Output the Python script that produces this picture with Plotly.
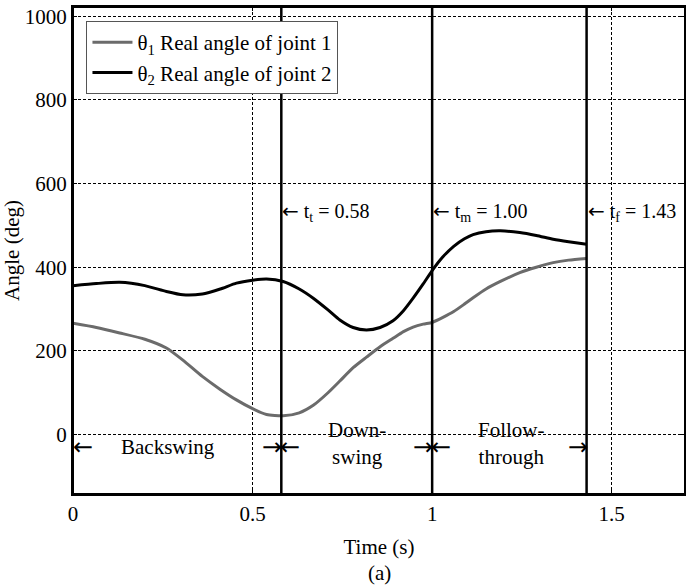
import plotly.graph_objects as go

time_s = [0, 0.065, 0.13, 0.2, 0.26, 0.306, 0.36, 0.41, 0.455, 0.5, 0.539, 0.585,
          0.63, 0.669, 0.71, 0.743, 0.78, 0.817, 0.855, 0.891, 0.92, 0.947, 0.975,
          1.0, 1.03, 1.06, 1.09, 1.114, 1.15, 1.19, 1.244, 1.29, 1.337, 1.38, 1.43]
theta1 = [266, 256, 243, 228, 207, 178, 139, 108, 83, 62, 48, 45,
          52, 70, 100, 128, 160, 185, 210, 230, 246, 257, 264,
          268, 280, 294, 312, 327, 348, 366, 387, 400, 411, 417, 421]
theta2 = [356, 361, 364, 356, 342, 334, 336, 348, 362, 369, 372, 366,
          348, 326, 298, 274, 256, 250, 256, 272, 296, 326, 360,
          392, 425, 450, 468, 478, 485, 487, 483, 476, 467, 461, 455]

phase_times = [0.58, 1.00, 1.43]
phase_labels = ["t<sub>t</sub> = 0.58", "t<sub>m</sub> = 1.00", "t<sub>f</sub> = 1.43"]
phase_names = ["Backswing", "Down-<br>swing", "Follow-<br>through"]
phase_name_x = [0.265, 0.79, 1.22]

x_ticks = [0, 0.5, 1, 1.5]
x_ticklabels = ["0", "0.5", "1", "1.5"]
y_ticks = [0, 200, 400, 600, 800, 1000]

FONT = "Liberation Serif, Times New Roman, serif"
ARROWFONT = "DejaVu Sans"
FS = 21
AFS = 24

fig = go.Figure()
fig.add_trace(go.Scatter(x=time_s, y=theta1, mode="lines", line=dict(color="#6b6b6b", width=3, shape="spline", smoothing=0.6),
                         name="θ<sub>1</sub> Real angle of joint 1"))
fig.add_trace(go.Scatter(x=time_s, y=theta2, mode="lines", line=dict(color="black", width=3, shape="spline", smoothing=0.6),
                         name="θ<sub>2</sub> Real angle of joint 2"))

for t in phase_times:
    fig.add_shape(type="line", x0=t, x1=t, y0=0, y1=1, xref="x", yref="paper",
                  line=dict(color="black", width=2.5))
# plot frame
fig.add_shape(type="rect", x0=0, x1=1, y0=0, y1=1, xref="paper", yref="paper",
              line=dict(color="black", width=2), layer="above")

ann = []
for t, lab in zip(phase_times, phase_labels):
    ann.append(dict(x=t, y=533, xref="x", yref="y", xanchor="left", yanchor="middle",
                    text="<span style='font-family:DejaVu Sans'>←</span> " + lab, showarrow=False,
                    font=dict(family=FONT, size=20, color="black"), xshift=-1))

# bottom arrows
arrow_y = -30
ann.append(dict(x=0, y=arrow_y, xref="x", yref="y", xanchor="left", yanchor="middle", text="←",
                showarrow=False, font=dict(family=ARROWFONT, size=AFS, color="black"), xshift=-2))
for t in phase_times:
    ann.append(dict(x=t, y=arrow_y, xref="x", yref="y", xanchor="right", yanchor="middle", text="→",
                    showarrow=False, font=dict(family=ARROWFONT, size=AFS, color="black"), xshift=3))
for t in phase_times[:2]:
    ann.append(dict(x=t, y=arrow_y, xref="x", yref="y", xanchor="left", yanchor="middle", text="←",
                    showarrow=False, font=dict(family=ARROWFONT, size=AFS, color="black"), xshift=-3))
for nx, nm in zip(phase_name_x, phase_names):
    yv = -29 if "<br>" not in nm else -22
    ann.append(dict(x=nx, y=yv, xref="x", yref="y", xanchor="center", yanchor="middle", text=nm,
                    showarrow=False, font=dict(family=FONT, size=FS, color="black")))

ann.append(dict(x=0.5, y=-0.163, xref="paper", yref="paper", xanchor="center", yanchor="middle",
                text="(a)", showarrow=False, font=dict(family=FONT, size=FS, color="black")))

fig.update_layout(
    width=686, height=587,
    margin=dict(l=73, r=1, t=7, b=93, autoexpand=False),
    paper_bgcolor="white", plot_bgcolor="white",
    font=dict(family=FONT, size=FS, color="black"),
    annotations=ann,
    showlegend=True,
    legend=dict(x=0.022, y=0.971, xanchor="left", yanchor="top", bgcolor="white",
                bordercolor="#555", borderwidth=1, font=dict(family=FONT, size=FS, color="black"),
                itemwidth=40, tracegroupgap=0),
    xaxis=dict(range=[0, 1.704], tickvals=x_ticks, ticktext=x_ticklabels, showgrid=True,
               gridcolor="black", gridwidth=1, griddash="3px,2px", zeroline=False,
               showline=True, linecolor="black", linewidth=2, mirror="ticks",
               ticks="inside", ticklen=4, tickcolor="black", automargin=False,
               ticklabeloverflow="allow",
               title=dict(text="Time (s)", standoff=14, font=dict(family=FONT, size=FS))),
    yaxis=dict(range=[-142, 1022], tickvals=y_ticks, showgrid=True,
               gridcolor="black", gridwidth=1, griddash="3px,2px", zeroline=False,
               showline=True, linecolor="black", linewidth=2, mirror="ticks",
               ticks="inside", ticklen=4, tickcolor="black", automargin=False,
               ticklabeloverflow="allow",
               title=dict(text="Angle (deg)", standoff=8, font=dict(family=FONT, size=FS))),
)

fig.write_html("out.html", config={"displayModeBar": False},
               post_script="document.body.style.margin='0px';document.body.style.overflow='hidden';")
